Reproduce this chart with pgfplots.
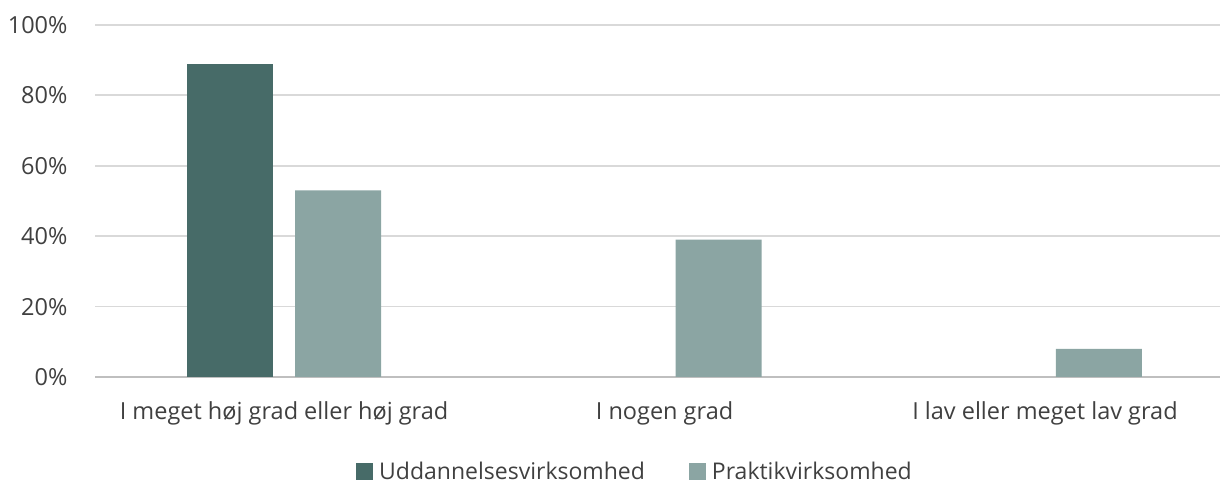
\documentclass[border=0pt]{standalone}
\usepackage{fontspec}
\setmainfont{Open Sans}
\usepackage{pgfplots}
\pgfplotsset{compat=1.18}
\definecolor{darkbar}{HTML}{476B68}
\definecolor{lightbar}{HTML}{8BA5A3}
\definecolor{gridc}{HTML}{D9D9D9}
\definecolor{axisc}{HTML}{BFBFBF}
\definecolor{txt}{HTML}{404040}
\begin{document}
\begin{tikzpicture}
\useasboundingbox (0,0) rectangle (1225pt,486pt);
\begin{axis}[
  at={(95pt,109pt)}, anchor=south west,
  scale only axis,
  width=1125pt, height=352pt,
  ybar, bar width=86pt,
  xmin=-0.497, xmax=2.46,
  ymin=0, ymax=100,
  ytick={0,20,40,60,80,100},
  yticklabel={\pgfmathprintnumber{\tick}\%},
  /pgf/number format/assume math mode=true,
  xtick={0,1,2},
  xticklabels={I meget høj grad eller høj grad, I nogen grad, I lav eller meget lav grad},
  ymajorgrids,
  grid style={gridc, line width=1.8pt},
  axis x line*=bottom,
  axis y line*=left,
  y axis line style={draw=none},
  x axis line style={axisc, line width=1.8pt, -},
  major tick length=0pt,
  ticklabel style={font=\fontsize{23.5}{26}\selectfont, text=txt},
  yticklabel style={anchor=east, xshift=-24pt},
  xticklabel style={anchor=north, yshift=-21pt},
]
\addplot[draw=none, fill=darkbar, bar shift=-54pt] coordinates {(0,89)};
\addplot[draw=none, fill=lightbar, bar shift=54pt] coordinates {(0,53) (1,39) (2,8)};
\end{axis}
\node[anchor=base, inner sep=0pt] at (634pt,6pt) {%
  \tikz[baseline=0pt]\fill[darkbar] (0,0) rectangle (17pt,17pt);%
  \hspace{6pt}{\fontsize{23}{26}\selectfont\color{txt}Uddannelsesvirksomhed}%
  \hspace{44pt}%
  \tikz[baseline=0pt]\fill[lightbar] (0,0) rectangle (17pt,17pt);%
  \hspace{6pt}{\fontsize{23}{26}\selectfont\color{txt}Praktikvirksomhed}};
\end{tikzpicture}
\end{document}
